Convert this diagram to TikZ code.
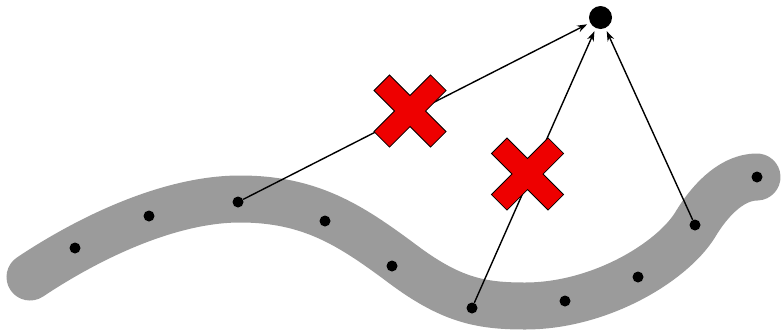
\documentclass[tikz,border=0pt]{standalone}
\usetikzlibrary{arrows.meta}
\definecolor{bandgray}{RGB}{155,155,155}
\definecolor{xred}{RGB}{238,0,0}
\tikzset{
  band/.style={draw=bandgray, line width=47pt, line cap=round, line join=round},
  dot/.style={circle, fill=black, inner sep=0pt, minimum size=11pt},
  goal/.style={circle, fill=black, inner sep=0pt, minimum size=23pt, outer sep=0pt},
  link/.style={line width=1.4pt, -{Stealth[length=10pt,width=7pt]}, shorten >=3.5pt},
  redx/.style={fill=xred, draw=black, line width=0.8pt, line join=miter}
}
\begin{document}
\begin{tikzpicture}[x=1pt,y=-1pt]
\useasboundingbox (0,0) rectangle (781,330);
% band
\draw[band] (30,277) .. controls (90,237) and (170,199) .. (240,199)
  .. controls (310,199) and (350,225) .. (400,262)
  .. controls (450,300) and (480,306) .. (525,306)
  .. controls (600,306) and (672,262) .. (695,225)
  .. controls (713,195) and (735,177) .. (757,177);
% dots
\node[dot] (d1) at (75,248) {};
\node[dot] (d2) at (149,216) {};
\node[dot] (d3) at (238,202) {};
\node[dot] (d4) at (325,221) {};
\node[dot] (d5) at (392,266) {};
\node[dot] (d6) at (472,308) {};
\node[dot] (d7) at (565,301) {};
\node[dot] (d8) at (638,277) {};
\node[dot] (d9) at (695,225) {};
\node[dot] (d10) at (757,177) {};
% target
\node[goal] (t) at (600.5,17.5) {};
% connectors
\draw[link] (d3) -- (t);
\draw[link] (d6) -- (t);
\draw[link] (d9) -- (t);
% crosses
\coordinate (c1) at (410,111);
\coordinate (c2) at (527.5,174);
\foreach \c in {c1,c2}{
  \draw[redx, shift={(\c)}, rotate=45]
    (40,-11) -- (40,11) -- (11,11) -- (11,40) -- (-11,40) -- (-11,11) -- (-40,11)
    -- (-40,-11) -- (-11,-11) -- (-11,-40) -- (11,-40) -- (11,-11) -- cycle;
}
\end{tikzpicture}
\end{document}
